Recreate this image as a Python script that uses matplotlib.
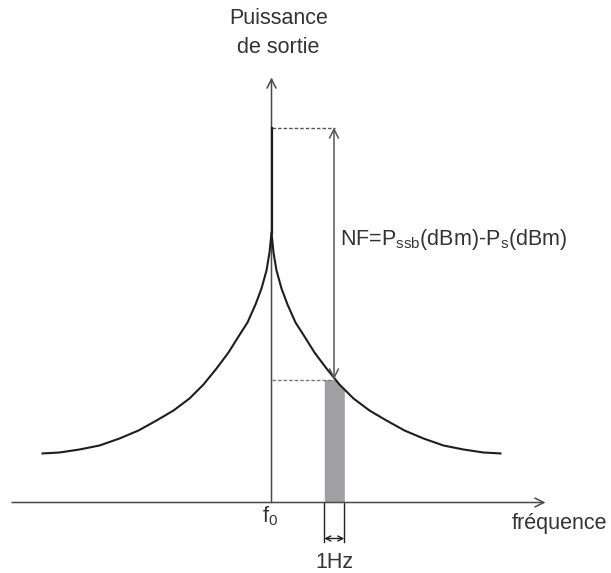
import numpy as np
import matplotlib
matplotlib.use("Agg")
import matplotlib.pyplot as plt

plt.rcParams['font.family'] = ['Liberation Sans', 'DejaVu Sans']
plt.rcParams['mathtext.fontset'] = 'custom'
plt.rcParams['mathtext.rm'] = 'Liberation Sans'
plt.rcParams['mathtext.it'] = 'Liberation Sans'

# Half profile of the phase-noise skirt (offset from f0, output power), mirrored
offsets = [0, 2, 5, 10, 16, 24, 33, 43, 55, 68, 82, 98, 115, 133, 152, 172, 192, 212, 230]
heights = [270, 250, 232, 214, 198, 180, 166, 150, 134, 118, 104, 92, 82, 72, 64, 57, 53, 50, 49]
spike_top = 375          # carrier power level
ssb_level = 123          # noise level at the measured offset
band = [52.8, 72.8]      # 1 Hz measurement band
measure_x = 62.5         # offset where NF arrow is drawn

AX_COL = '#4a4a4a'
fig = plt.figure(figsize=(6.11, 5.73), dpi=100)
ax = fig.add_axes([0, 0, 1, 1])
ax.set_xlim(-271.5, 339.5)
ax.set_ylim(-70.5, 502.5)
ax.axis('off')

off = np.array(offsets, dtype=float)
h = np.array(heights, dtype=float)
xs = np.concatenate([-off[::-1], off[1:]])
ys = np.concatenate([h[::-1], h[1:]])

# shaded 1 Hz band
bx = np.linspace(band[0], band[1], 40)
btop = np.minimum(np.interp(bx, off, h), ssb_level)
ax.fill_between(bx, 0, btop, color='#a0a0a2', lw=0, zorder=1)

# axes arrows
ax.annotate('', xy=(274, 0), xytext=(-259.5, 0),
            arrowprops=dict(arrowstyle='->', color=AX_COL, lw=1.1, mutation_scale=16, shrinkA=0, shrinkB=0))
ax.annotate('', xy=(0, 425), xytext=(0, 0),
            arrowprops=dict(arrowstyle='->', color=AX_COL, lw=1.1, mutation_scale=16, shrinkA=0, shrinkB=0))

# curve and carrier spike
ax.plot(xs, ys, color='#1e1e1e', lw=1.5, zorder=3, solid_capstyle='butt')
ax.plot([0, 0], [heights[0], spike_top], color='#1e1e1e', lw=1.6, zorder=3)

# dashed level lines
ax.plot([0, measure_x + 1], [spike_top, spike_top], color='#555555', lw=1.0, ls=(0, (2.5, 1.5)), zorder=2)
ax.plot([0, measure_x - 1], [ssb_level, ssb_level], color='#777777', lw=1.0, ls=(0, (2.5, 1.5)), zorder=2)

# NF double arrow
ax.annotate('', xy=(measure_x, ssb_level), xytext=(measure_x, spike_top),
            arrowprops=dict(arrowstyle='<->', color='#555555', lw=1.1, mutation_scale=16, shrinkA=0, shrinkB=0))

# 1 Hz bracket
for bxe in band:
    ax.plot([bxe, bxe], [0, -39], color='#222222', lw=1.0)
ax.annotate('', xy=(band[1], -36), xytext=(band[0], -36),
            arrowprops=dict(arrowstyle='<->', color='#222222', lw=1.0, mutation_scale=9, shrinkA=0, shrinkB=0))

fs = 15.5
tc = '#333333'
ax.text(7, 484, 'Puissance', ha='center', va='center', fontsize=fs, color=tc)
ax.text(6.5, 455, 'de sortie', ha='center', va='center', fontsize=fs, color=tc)
ax.text(68, 263, r'NF=P$_{\mathregular{ssb}}$(dBm)-P$_{\mathregular{s}}$(dBm)', ha='left', va='center',
        fontsize=fs, color=tc)
ax.text(-1, -14, r'f$_{\mathregular{0}}$', ha='center', va='center', fontsize=fs, color=tc)
ax.text(288.5, -20.5, 'fréquence', ha='center', va='center', fontsize=fs, color=tc)
ax.text(62.5, -59.5, '1Hz', ha='center', va='center', fontsize=fs, color=tc)

fig.savefig('out.png', dpi=100, facecolor='white')
